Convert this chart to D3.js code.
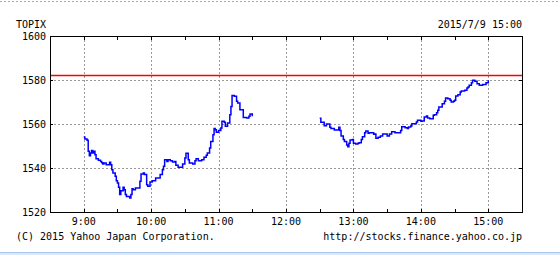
<!DOCTYPE html>
<meta charset="utf-8">
<style>
    body { margin: 0; background: #fff; }
    text {
        font-family: "DejaVu Sans Mono", monospace;
        font-size: 10px;
        fill: #000;
    }
    .grid line {
        stroke: #999;
        stroke-dasharray: 2,2;
        shape-rendering: crispEdges;
    }
    .frame {
        fill: none;
        stroke: #000;
        shape-rendering: crispEdges;
    }
    .tick-mark {
        stroke: #000;
        shape-rendering: crispEdges;
    }
    .price {
        fill: none;
        stroke: #0000ff;
        stroke-width: 1.5px;
    }
</style>
<body>
<svg></svg>

<script src="https://d3js.org/d3.v7.min.js"></script>
<script type='text/javascript'>

    // TOPIX intraday, 2015/7/9
    var amTimes = ['9:00','9:01','9:03','9:04','9:05','9:06','9:07','9:08','9:09','9:10','9:11','9:13','9:15','9:16','9:17','9:18','9:20','9:22','9:23','9:24',
        '9:25','9:26','9:28','9:29','9:30','9:31','9:32','9:33','9:35','9:36','9:37','9:38','9:41','9:42','9:43','9:44','9:46','9:49','9:50','9:51',
        '9:53','9:54','9:56','9:57','9:59','10:01','10:04','10:07','10:08','10:10','10:11','10:12','10:14','10:15','10:17','10:19','10:21','10:22','10:24','10:26',
        '10:28','10:30','10:31','10:33','10:34','10:37','10:39','10:40','10:42','10:45','10:47','10:49','10:50','10:52','10:53','10:55','10:56','10:57','10:58','11:00',
        '11:02','11:03','11:05','11:06','11:08','11:10','11:11','11:12','11:14','11:16','11:17','11:19','11:21','11:22','11:25','11:27','11:28','11:30'];
    var amValues = [1554.1,1553.2,1552.6,1547.6,1545.6,1546.8,1548.0,1546.8,1547.6,1546.0,1544.2,1543.5,1543.0,1542.4,1541.8,1542.3,1541.5,1541.5,1542.6,1541.5,
        1539.2,1537.7,1536.2,1534.2,1533.2,1531.2,1527.9,1529.7,1531.2,1530.1,1527.9,1527.1,1526.4,1527.9,1530.6,1530.1,1530.9,1530.9,1534.0,1537.3,
        1537.7,1537.0,1532.4,1531.7,1533.6,1534.2,1535.5,1535.5,1537.0,1539.2,1540.8,1543.8,1543.0,1543.8,1543.3,1542.7,1543.0,1541.2,1540.3,1540.3,
        1541.8,1544.5,1546.7,1543.8,1542.3,1541.8,1543.3,1544.2,1543.3,1543.8,1544.9,1545.8,1546.8,1549.1,1552.1,1555.1,1557.9,1557.4,1556.2,1557.0,
        1558.2,1561.2,1560.8,1559.0,1560.5,1564.2,1568.0,1573.0,1572.6,1570.3,1569.5,1566.5,1566.5,1563.0,1562.7,1563.5,1564.5,1563.5];

    var pmTimes = ['12:30','12:31','12:33','12:34','12:36','12:38','12:39','12:40','12:42','12:43','12:45','12:47','12:48','12:49','12:51','12:52','12:54','12:55','12:56','12:57',
        '12:59','13:00','13:02','13:04','13:05','13:07','13:08','13:10','13:11','13:13','13:14','13:16','13:18','13:19','13:20','13:22','13:24','13:26','13:28','13:30',
        '13:32','13:34','13:37','13:40','13:42','13:43','13:46','13:48','13:49','13:51','13:52','13:54','13:56','13:57','14:00','14:01','14:03','14:05','14:06','14:08',
        '14:09','14:11','14:12','14:14','14:15','14:16','14:18','14:19','14:21','14:22','14:24','14:26','14:27','14:29','14:30','14:31','14:33','14:35','14:36','14:39',
        '14:41','14:42','14:43','14:45','14:46','14:48','14:50','14:52','14:55','14:57','14:58','15:00'];
    var pmValues = [1562.6,1560.8,1560.8,1559.2,1560.0,1560.0,1558.5,1558.0,1558.0,1557.3,1557.3,1558.5,1557.0,1554.5,1553.0,1552.0,1550.5,1549.7,1551.2,1552.7,
        1553.0,1551.2,1550.9,1551.2,1551.5,1553.0,1554.2,1556.0,1556.8,1555.8,1556.0,1556.0,1555.3,1555.5,1553.5,1554.0,1554.5,1555.5,1555.5,1554.5,
        1555.5,1556.5,1556.0,1556.0,1557.0,1558.8,1558.3,1557.9,1558.6,1559.1,1560.1,1560.1,1560.9,1561.7,1561.2,1561.4,1563.2,1563.6,1562.7,1562.4,
        1562.4,1564.0,1564.2,1565.1,1566.2,1567.7,1567.7,1569.2,1570.3,1571.8,1571.5,1570.8,1570.0,1570.3,1570.8,1572.7,1573.3,1574.5,1575.0,1575.3,
        1576.4,1576.8,1577.6,1578.8,1579.9,1579.4,1578.3,1577.6,1578.0,1578.0,1578.8,1579.9];

    var prevClose = 1582.1;
    var yTicks = [1520, 1540, 1560, 1580, 1600];
    var hourTicks = ['9:00','10:00','11:00','12:00','13:00','14:00','15:00'];
    var halfTicks = ['8:30','9:00','9:30','10:00','10:30','11:00','11:30','12:00','12:30','13:00','13:30','14:00','14:30','15:00','15:30'];
    var xDomain = ['8:30', '15:30'];

    var title = 'TOPIX',
        stamp = '2015/7/9 15:00',
        copyright = '(C) 2015 Yahoo Japan Corporation.',
        source = 'http://stocks.finance.yahoo.co.jp';

    var W = 560, H = 255;
    var plot = {left: 50, top: 36, right: 522, bottom: 212};

    var parseT = d3.timeParse('%H:%M');

    var svg = d3.select('svg')
        .attr('width', W)
        .attr('height', H);

    var x = d3.scaleTime()
        .domain(xDomain.map(parseT))
        .range([plot.left, plot.right]);
    var y = d3.scaleLinear()
        .domain([1520, 1600])
        .range([plot.bottom, plot.top]);

    // page decoration: dotted top rule and blue strip at the bottom
    svg.append('line')
        .attr('x1', 0).attr('x2', W)
        .attr('y1', 1.5).attr('y2', 1.5)
        .attr('stroke', '#aaa')
        .attr('stroke-dasharray', '2,2');
    svg.append('rect')
        .attr('x', 0).attr('y', 252)
        .attr('width', W).attr('height', 3)
        .attr('fill', '#dde9f9');
    svg.append('line')
        .attr('x1', 0).attr('x2', W)
        .attr('y1', 252.5).attr('y2', 252.5)
        .attr('stroke', '#a8c6ec');

    // grid
    var grid = svg.append('g').attr('class', 'grid');
    grid.selectAll('.gx')
        .data(hourTicks)
        .enter().append('line')
        .attr('x1', function(d) { return Math.round(x(parseT(d))) + 0.5; })
        .attr('x2', function(d) { return Math.round(x(parseT(d))) + 0.5; })
        .attr('y1', plot.top)
        .attr('y2', plot.bottom);
    grid.selectAll('.gy')
        .data(yTicks.slice(1, -1))
        .enter().append('line')
        .attr('x1', plot.left)
        .attr('x2', plot.right)
        .attr('y1', function(d) { return Math.round(y(d)) + 0.5; })
        .attr('y2', function(d) { return Math.round(y(d)) + 0.5; });

    // previous close
    svg.append('line')
        .attr('x1', plot.left).attr('x2', plot.right)
        .attr('y1', Math.floor(y(prevClose)) + 0.5)
        .attr('y2', Math.floor(y(prevClose)) + 0.5)
        .attr('stroke', '#ff0000')
        .attr('stroke-width', 1.5);

    // price line, two sessions
    var line = d3.line()
        .x(function(d) { return x(d.t); })
        .y(function(d) { return y(d.v); })
        .curve(d3.curveStepAfter);

    var sessions = [
        amTimes.map(function(t, i) { return {t: parseT(t), v: amValues[i]}; }),
        pmTimes.map(function(t, i) { return {t: parseT(t), v: pmValues[i]}; })
    ];
    svg.selectAll('.price')
        .data(sessions)
        .enter().append('path')
        .attr('class', 'price')
        .attr('d', line);

    // frame
    svg.append('rect')
        .attr('class', 'frame')
        .attr('x', plot.left + 0.5)
        .attr('y', plot.top + 0.5)
        .attr('width', plot.right - plot.left)
        .attr('height', plot.bottom - plot.top);

    // inward tick marks
    halfTicks.slice(1, -1).forEach(function(t) {
        var px = Math.round(x(parseT(t))) + 0.5;
        svg.append('line').attr('class', 'tick-mark')
            .attr('x1', px).attr('x2', px)
            .attr('y1', plot.top).attr('y2', plot.top + 4);
        svg.append('line').attr('class', 'tick-mark')
            .attr('x1', px).attr('x2', px)
            .attr('y1', plot.bottom).attr('y2', plot.bottom - 3);
    });
    yTicks.forEach(function(v) {
        var py = Math.round(y(v)) + 0.5;
        svg.append('line').attr('class', 'tick-mark')
            .attr('x1', plot.left).attr('x2', plot.left + 3)
            .attr('y1', py).attr('y2', py);
        svg.append('line').attr('class', 'tick-mark')
            .attr('x1', plot.right - 3).attr('x2', plot.right)
            .attr('y1', py).attr('y2', py);
    });

    // labels
    svg.selectAll('.ylab')
        .data(yTicks)
        .enter().append('text')
        .attr('x', plot.left - 4)
        .attr('y', function(d) { return y(d); })
        .attr('dy', '0.35em')
        .attr('text-anchor', 'end')
        .text(function(d) { return d; });

    svg.selectAll('.xlab')
        .data(hourTicks)
        .enter().append('text')
        .attr('x', function(d) { return x(parseT(d)); })
        .attr('y', 225)
        .attr('text-anchor', 'middle')
        .text(function(d) { return d; });

    svg.append('text').attr('x', 16).attr('y', 28).text(title);
    svg.append('text').attr('x', plot.right).attr('y', 28)
        .attr('text-anchor', 'end').text(stamp);
    svg.append('text').attr('x', 16).attr('y', 240).text(copyright);
    svg.append('text').attr('x', plot.right).attr('y', 240)
        .attr('text-anchor', 'end').text(source);

</script>
